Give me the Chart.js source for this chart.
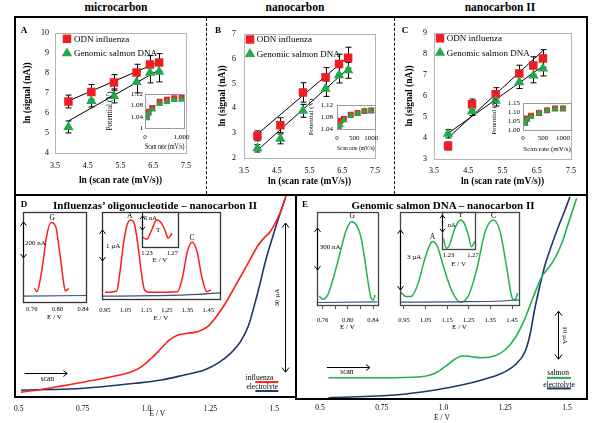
<!DOCTYPE html>
<html>
<head>
<meta charset="utf-8">
<script src="https://cdn.jsdelivr.net/npm/chart.js@4.4.0/dist/chart.umd.min.js"></script>
<style>
body { margin: 0; background: #fff; }
#fig { position: relative; width: 600px; height: 423px; overflow: hidden; font-family: "Liberation Serif", serif; background: #fff; }
#fig canvas { position: absolute; }
.t { position: absolute; transform: translate(-50%, -50%); white-space: nowrap; line-height: 1; color: #000; z-index: 3; }
.b { font-weight: bold; }
.ln { position: absolute; background: #000; z-index: 2; }
.dash { position: absolute; border-left: 1px dashed #000; width: 0; z-index: 2; }
</style>
</head>
<body>
<div id="fig">
  <div class="ln" style="left:14px;top:16px;width:574px;height:2px"></div>
  <div class="ln" style="left:14px;top:16px;width:2px;height:382px"></div>
  <div class="ln" style="left:14px;top:194px;width:574px;height:2px"></div>
  <div class="ln" style="left:586px;top:16px;width:2px;height:384px"></div>
  <div class="ln" style="left:295px;top:194px;width:2px;height:206px"></div>
  <div class="ln" style="left:14px;top:396px;width:283px;height:2px"></div>
  <div class="ln" style="left:295px;top:398px;width:293px;height:2px"></div>
  <div class="dash" style="left:206px;top:18px;height:176px"></div>
  <div class="dash" style="left:394px;top:18px;height:176px"></div>

  <div class="t b" style="left:116px;top:8px;font-size:11.5px">microcarbon</div>
  <div class="t b" style="left:295px;top:8px;font-size:11.5px">nanocarbon</div>
  <div class="t b" style="left:500px;top:8px;font-size:11.5px">nanocarbon II</div>
  <div class="t b" style="left:24px;top:30px;font-size:9px">A</div>
  <div class="t b" style="left:218px;top:30px;font-size:9px">B</div>
  <div class="t b" style="left:405px;top:30px;font-size:9px">C</div>
  <div class="t b" style="left:24px;top:204px;font-size:9px">D</div>
  <div class="t b" style="left:155px;top:205px;font-size:11px">Influenzas’ oligonucleotide – nanocarbon II</div>
  <div class="t b" style="left:305px;top:204px;font-size:9px">E</div>
  <div class="t b" style="left:443px;top:205px;font-size:11px">Genomic salmon DNA – nanocarbon II</div>
</div>
<script>
// ---- top row: ln(signal) vs ln(scan rate) ----
const lnRate = [3.91, 4.61, 5.30, 5.99, 6.40, 6.68];
const lnTicks = [3.5, 4.5, 5.5, 6.5, 7.5];

const aYTicks = [4, 5, 6, 7, 8, 9, 10];
const aOdn = [6.57, 7.05, 7.52, 8.02, 8.42, 8.52];
const aOdnErr = [0.32, 0.37, 0.39, 0.41, 0.44, 0.44];
const aSal = [5.3, 6.6, 6.85, 7.55, 8.0, 8.05];
const aSalErr = [0.3, 0.3, 0.35, 0.55, 0.5, 0.5];
const aOdnFit = [6.6, 8.55];
const aSalFit = [5.6, 8.15];

const bYTicks = [2, 3, 4, 5, 6, 7];
const bOdn = [2.89, 3.32, 4.64, 5.25, 5.78, 6.04];
const bOdnErr = [0.2, 0.3, 0.39, 0.39, 0.4, 0.42];
const bSal = [2.39, 2.77, 3.9, 4.79, 5.33, 5.53];
const bSalErr = [0.15, 0.2, 0.26, 0.31, 0.31, 0.32];
const bOdnFit = [2.96, 6.07];
const bSalFit = [2.31, 5.6];

const cYTicks = [3, 4, 5, 6, 7, 8, 9];
const cOdn = [3.62, 5.6, 6.08, 7.06, 7.44, 7.78];
const cOdnErr = [0.19, 0.25, 0.31, 0.4, 0.42, 0.42];
const cSal = [4.2, 5.27, 5.77, 6.65, 6.97, 7.3];
const cSalErr = [0.2, 0.2, 0.25, 0.3, 0.35, 0.35];
const cOdnFit = [4.0, 8.15];
const cSalFit = [4.22, 7.42];

// insets: peak potential vs scan rate
const potRate = [50, 100, 200, 400, 600, 800, 1000];
const aOdnPot = [1.038, 1.058, 1.071, 1.093, 1.100, 1.106, 1.112];
const aSalPot = [1.036, 1.052, 1.066, 1.086, 1.093, 1.100, 1.101];
const bOdnPot = [1.047, 1.068, 1.074, 1.088, 1.094, 1.100, 1.102];
const bSalPot = [1.042, 1.053, 1.070, 1.085, 1.092, 1.100, 1.101];
const cOdnPot = [1.040, 1.065, 1.080, 1.095, 1.110, 1.120, 1.120];
const cSalPot = [1.035, 1.058, 1.075, 1.095, 1.110, 1.118, 1.120];
const aPotTicks = [1, 1.04, 1.08, 1.12];
const bPotTicks = [1.04, 1.08, 1.12];
const cPotTicks = [1.00, 1.05, 1.10, 1.15];
const aRateTicks = [0, 1000];
const bcRateTicks = [0, 500, 1000];

// ---- bottom row: voltammograms (E / V, current) ----
const eTicks = [0.5, 0.75, 1.0, 1.25, 1.5];
const eTickLabels = ['0.5', '0.75', '1.0', '1.25', '1.5'];

// D main, current in µA
const dInfE = [0.509, 0.632, 0.761, 0.864, 0.942, 0.981, 1.019, 1.058, 1.090, 1.123, 1.162, 1.200, 1.239, 1.278, 1.317, 1.342, 1.394, 1.433, 1.459, 1.484, 1.510, 1.530, 1.547];
const dInfI = [0.95, 1.87, 3.08, 4.08, 5.09, 6.10, 7.79, 9.80, 11.47, 12.47, 12.82, 13.14, 14.14, 16.50, 19.52, 21.87, 26.56, 30.24, 31.93, 33.26, 35.61, 37.97, 40.64];
const dEleE = [0.509, 0.697, 0.826, 0.955, 1.058, 1.148, 1.226, 1.278, 1.329, 1.368, 1.400, 1.426, 1.446, 1.465, 1.484, 1.504, 1.523, 1.543];
const dEleI = [1.41, 1.61, 2.07, 2.76, 3.42, 4.43, 5.43, 6.78, 8.79, 11.13, 14.49, 19.18, 23.20, 27.22, 30.58, 33.94, 36.96, 39.98];

// E main, current in µA
const eSalE = [0.534, 0.736, 0.912, 0.966, 1.006, 1.047, 1.080, 1.114, 1.155, 1.209, 1.249, 1.289, 1.330, 1.364, 1.398, 1.424, 1.451, 1.479, 1.499, 1.519, 1.539];
const eSalI = [4.44, 4.44, 4.65, 5.35, 6.73, 8.33, 9.02, 8.81, 8.60, 9.02, 10.21, 12.65, 16.81, 21.31, 25.48, 27.23, 29.31, 32.44, 35.56, 38.69, 41.81];
const eEleE = [0.534, 0.804, 0.966, 1.074, 1.155, 1.236, 1.289, 1.330, 1.350, 1.370, 1.391, 1.411, 1.438, 1.465, 1.492, 1.512];
const eEleI = [0.27, 0.83, 1.88, 2.92, 3.96, 5.35, 7.08, 9.85, 13.33, 18.90, 23.75, 27.92, 32.08, 35.9, 39.38, 42.15];

// D insets (G in nA, A/C in µA, T in nA)
const dgTicks = [0.76, 0.80, 0.84];
const dGE = [0.7645, 0.768, 0.7731, 0.7781, 0.7831, 0.7898, 0.7973, 0.8023, 0.8064, 0.8098, 0.8124, 0.8174];
const dGI = [76, 57, 122, 234, 363, 441, 419, 307, 196, 104, 61, 76];
const dGBaseE = [0.7464, 0.8445];
const dGBaseI = [33, 36];
const acTicks = [0.95, 1.05, 1.15, 1.25, 1.35, 1.45];
const dACE = [0.951, 1.007, 1.023, 1.039, 1.055, 1.075, 1.094, 1.110, 1.126, 1.142, 1.166, 1.301, 1.325, 1.349, 1.372, 1.396, 1.420, 1.444, 1.463];
const dACI = [0.216, 0.258, 0.88, 1.74, 2.34, 2.55, 2.39, 1.74, 0.88, 0.29, 0.216, 0.236, 0.68, 1.53, 1.83, 1.53, 0.68, 0.236, 0.29];
const dACBaseE = [0.936, 1.2, 1.4, 1.507];
const dACBaseI = [0.09, 0.11, 0.15, 0.2];
const tTicks = [1.23, 1.27];
const dTE = [1.2217, 1.2295, 1.2373, 1.2452, 1.253, 1.2592, 1.2633, 1.2695];
const dTI = [3.68, 2.75, 6.07, 9.64, 8.46, 5.46, 3.1, 4.9];

// E insets
const egTicks = [0.76, 0.78, 0.80, 0.82, 0.84];
const egLabels = ['0.76', '', '0.80', '', '0.84'];
const eGE = [0.7545, 0.7604, 0.7679, 0.7753, 0.7827, 0.7901, 0.7975, 0.8059, 0.8138, 0.8207, 0.8271, 0.8321, 0.837, 0.8404, 0.8434];
const eGI = [64, 41, 71, 166, 286, 416, 536, 595, 571, 488, 321, 166, 48, 36, 71];
const eGBaseE = [0.7511, 0.8474];
const eGBaseI = [18, 22];
const eACE = [0.936, 0.959, 0.982, 1.013, 1.043, 1.066, 1.082, 1.105, 1.135, 1.173, 1.211, 1.25, 1.288, 1.326, 1.364, 1.395, 1.426, 1.451, 1.464, 1.476];
const eACI = [0.64, 0.42, 0.42, 1.0, 2.17, 2.92, 3.17, 2.92, 1.84, 0.67, 0.14, 0.5, 1.84, 3.67, 4.25, 3.67, 1.84, 0.34, 0.25, 0.59];
const eACBaseE = [0.932, 1.2, 1.4, 1.482];
const eACBaseI = [0.14, 0.16, 0.2, 0.26];
const eTE = [1.2212, 1.2265, 1.2315, 1.2382, 1.2443, 1.2495, 1.2557, 1.2623, 1.2674, 1.2726];
const eTI = [3.15, 0.2, 1.18, 5.09, 7.56, 8.53, 7.56, 4.12, 0.68, 2.15];

const RED = '#ee1d23', GREEN = '#22a94b', NAVY = '#1d3766', CVRED = '#ff1c1c', CVGREEN = '#1fb24f', BASE = '#3a5280';
const SERIF = '"Liberation Serif", "Times New Roman", serif';

Chart.defaults.font.family = SERIF;
Chart.defaults.color = '#000';
Chart.defaults.animation = false;
Chart.defaults.events = [];
Chart.defaults.plugins.legend.display = false;
Chart.defaults.plugins.tooltip.enabled = false;

function rawOpt(chart, id) {
  const p = chart.config.options.plugins;
  return p && p[id];
}

function drawMark(ctx, style, x, y, color, r) {
  ctx.fillStyle = color;
  ctx.beginPath();
  if (style === 'triangle') {
    ctx.moveTo(x, y - r);
    ctx.lineTo(x + r * 0.866, y + r * 0.5);
    ctx.lineTo(x - r * 0.866, y + r * 0.5);
    ctx.closePath();
  } else {
    const h = r * Math.SQRT1_2;
    ctx.rect(x - h, y - h, 2 * h, 2 * h);
  }
  ctx.fill();
}

// plot-area border / white fill
Chart.register({
  id: 'frame',
  beforeDraw(chart) {
    const o = rawOpt(chart, 'frame');
    if (!o || !o.fill) return;
    const a = chart.chartArea, ctx = chart.ctx;
    ctx.save();
    ctx.fillStyle = o.fill;
    ctx.fillRect(a.left, a.top, a.right - a.left, a.bottom - a.top);
    ctx.restore();
  },
  afterDraw(chart) {
    const o = rawOpt(chart, 'frame');
    if (!o || !o.color) return;
    const a = chart.chartArea, ctx = chart.ctx;
    ctx.save();
    ctx.strokeStyle = o.color;
    ctx.lineWidth = o.width || 1;
    ctx.strokeRect(Math.round(a.left) + 0.5, Math.round(a.top) + 0.5, Math.round(a.right - a.left), Math.round(a.bottom - a.top));
    ctx.restore();
  }
});

// vertical error bars with caps
Chart.register({
  id: 'errorBars',
  beforeDatasetsDraw(chart) {
    const {ctx, scales: {x, y}} = chart;
    ctx.save();
    ctx.strokeStyle = '#000';
    ctx.lineWidth = 1;
    chart.data.datasets.forEach(ds => {
      if (!ds.errorBars) return;
      ds.data.forEach((p, i) => {
        const e = ds.errorBars[i];
        const px = Math.round(x.getPixelForValue(p.x)) + 0.5;
        const t = y.getPixelForValue(p.y + e), b = y.getPixelForValue(p.y - e);
        ctx.beginPath();
        ctx.moveTo(px, t); ctx.lineTo(px, b);
        ctx.moveTo(px - 3, t); ctx.lineTo(px + 3, t);
        ctx.moveTo(px - 3, b); ctx.lineTo(px + 3, b);
        ctx.stroke();
      });
    });
    ctx.restore();
  }
});

// legend inside the plot area
Chart.register({
  id: 'key',
  afterDatasetsDraw(chart) {
    const o = rawOpt(chart, 'key');
    if (!o) return;
    const {ctx, chartArea: a} = chart;
    let row = 0;
    ctx.save();
    chart.data.datasets.forEach(ds => {
      if (!ds.label) return;
      const cy = a.top + o.dy + row * o.gap;
      drawMark(ctx, ds.pointStyle, a.left + o.dx, cy, ds.pointBackgroundColor, ds.pointRadius);
      ctx.fillStyle = '#000';
      ctx.font = o.size + 'px ' + SERIF;
      ctx.textAlign = 'left';
      ctx.textBaseline = 'middle';
      ctx.fillText(ds.label, a.left + o.tx, cy + 0.5);
      row++;
    });
    ctx.restore();
  }
});

// annotations in data coordinates: labels, scale bars, arrows, key lines
Chart.register({
  id: 'marks',
  afterDraw(chart) {
    const o = rawOpt(chart, 'marks');
    if (!o || !o.items) return;
    const {ctx} = chart, sx = chart.scales.x, sy = chart.scales.y;
    const X = v => sx.getPixelForValue(v), Y = v => sy.getPixelForValue(v);
    ctx.save();
    ctx.lineJoin = 'round';
    for (const m of o.items) {
      const col = m.color || '#000';
      ctx.strokeStyle = col;
      ctx.fillStyle = col;
      ctx.lineWidth = m.w || 1;
      ctx.beginPath();
      if (m.t === 'text') {
        ctx.font = (m.size || 7) + 'px ' + SERIF;
        ctx.textAlign = m.align || 'center';
        ctx.textBaseline = 'middle';
        ctx.save();
        ctx.translate(X(m.x), Y(m.y));
        if (m.rot) ctx.rotate(m.rot * Math.PI / 180);
        ctx.fillText(m.s, 0, 0);
        ctx.restore();
      } else if (m.t === 'vbar') {
        const px = Math.round(X(m.x)) + 0.5, lo = Y(m.y1), hi = Y(m.y2), h = m.h || 3;
        ctx.moveTo(px, lo); ctx.lineTo(px, hi);
        ctx.moveTo(px - h, hi + h * 1.3); ctx.lineTo(px, hi); ctx.lineTo(px + h, hi + h * 1.3);
        ctx.moveTo(px - h, lo - h * 1.3); ctx.lineTo(px, lo); ctx.lineTo(px + h, lo - h * 1.3);
        ctx.stroke();
      } else if (m.t === 'harrow') {
        const a = X(m.x1), b = X(m.x2), py = Math.round(Y(m.y)) + 0.5, h = m.h || 3;
        ctx.moveTo(a, py); ctx.lineTo(b, py);
        ctx.moveTo(b - h * 1.3, py - h); ctx.lineTo(b, py); ctx.lineTo(b - h * 1.3, py + h);
        ctx.stroke();
      } else if (m.t === 'seg') {
        ctx.moveTo(X(m.x1), Y(m.y)); ctx.lineTo(X(m.x2), Y(m.y));
        ctx.stroke();
      }
    }
    ctx.restore();
  }
});

function axis(min, max, ticks, labels, size, pad, extra) {
  return Object.assign({
    type: 'linear', min, max,
    afterBuildTicks: s => { s.ticks = ticks.map(v => ({ value: v })); },
    ticks: { font: { size }, padding: pad, callback: (v, i) => labels[i], maxRotation: 0, autoSkip: false },
    grid: { display: false, drawTicks: false },
    border: { display: false }
  }, extra || {});
}

function title(text, size, bold, pt, pb) {
  return { display: true, text, font: { size, weight: bold ? 'bold' : 'normal' }, padding: { top: pt, bottom: pb } };
}

// box = plot area on the page [x1, y1, x2, y2]; m = room around it [left, top, right, bottom]
function mount(box, m, config) {
  const c = document.createElement('canvas');
  const w = box[2] - box[0] + m[0] + m[2], h = box[3] - box[1] + m[1] + m[3];
  c.width = w; c.height = h;
  c.style.left = (box[0] - m[0]) + 'px';
  c.style.top = (box[1] - m[1]) + 'px';
  c.style.width = w + 'px';
  c.style.height = h + 'px';
  document.getElementById('fig').appendChild(c);
  const o = config.options;
  o.responsive = false;
  o.maintainAspectRatio = false;
  const xs = o.scales.x, ys = o.scales.y;
  o.layout = { autoPadding: false, padding: { left: ys.display === false ? m[0] : 0, top: m[1], right: m[2], bottom: xs.display === false ? m[3] : 0 } };
  if (xs.display !== false) xs.afterFit = s => { s.height = m[3]; };
  if (ys.display !== false) ys.afterFit = s => { s.width = m[0]; };
  return new Chart(c, config);
}

function pts(xs, ys) { return xs.map((x, i) => ({ x, y: ys[i] })); }

function curve(xs, ys, color, w) {
  return { data: pts(xs, ys), showLine: true, pointRadius: 0, borderColor: color, borderWidth: w, cubicInterpolationMode: 'monotone', fill: false };
}

// triangles sit on top of the squares
function marker(label, xs, ys, style, color, r, err) {
  return { label, data: pts(xs, ys), pointStyle: style, pointRadius: r, pointBackgroundColor: color, pointBorderColor: color, pointBorderWidth: 0, errorBars: err, order: style === 'triangle' ? 1 : 2 };
}

function fitLine(ends) {
  return { data: [{ x: lnRate[0], y: ends[0] }, { x: lnRate[lnRate.length - 1], y: ends[1] }], showLine: true, pointRadius: 0, borderColor: '#000', borderWidth: 1, order: 3 };
}

function topMain(box, m, yTicks, odn, odnErr, sal, salErr, odnFit, salFit, f) {
  mount(box, m, {
    type: 'scatter',
    data: { datasets: [
      marker('ODN influenza', lnRate, odn, 'rect', RED, 6, odnErr),
      marker('Genomic salmon DNA', lnRate, sal, 'triangle', GREEN, 6, salErr),
      fitLine(odnFit),
      fitLine(salFit)
    ] },
    options: {
      scales: {
        x: axis(3.5, 7.5, lnTicks, lnTicks.map(v => v.toFixed(1)), 8, f.xpad, { title: title('ln (scan rate (mV/s))', 9.5, true, 0, 3) }),
        y: axis(yTicks[0], yTicks[yTicks.length - 1], yTicks, yTicks.map(String), 8, f.ypad, { title: title('ln (signal (nA))', 9.5, true, 2, 0) })
      },
      plugins: { frame: { color: '#b4b4b4', width: 1 }, key: { dx: f.kx, dy: f.ky, gap: 14.5, tx: f.tx, size: 9 } }
    }
  });
}

function topInset(box, m, rateMax, rateTicks, rateLabels, potTicks, potLabels, odnPot, salPot, f) {
  mount(box, m, {
    type: 'scatter',
    data: { datasets: [
      marker('', potRate, odnPot, 'rect', RED, 4.2),
      marker('', potRate, salPot, 'triangle', GREEN, 4.2)
    ] },
    options: {
      scales: {
        x: axis(0, rateMax, rateTicks, rateLabels, 7, f.xpad, { title: title('Scan rate (mV/s)', f.ts, false, 0, 0) }),
        y: axis(potTicks[0], potTicks[potTicks.length - 1], potTicks, potLabels, 7, f.ypad, { title: title('Potential (V)', f.ts, false, 0, 0) })
      },
      plugins: { frame: { color: '#9a9a9a', width: 1, fill: '#fff' } }
    }
  });
}

function cvMain(box, m, xmin, xmax, ymax, series, items, pad) {
  mount(box, m, {
    type: 'scatter',
    data: { datasets: series },
    options: {
      scales: {
        x: axis(xmin, xmax, eTicks, eTickLabels, 7.5, pad, { title: title('E / V', 7.5, false, 0, 0) }),
        y: { type: 'linear', min: 0, max: ymax, display: false }
      },
      plugins: { marks: { items } }
    }
  });
}

function cvInset(box, m, xmin, xmax, ticks, labels, ymax, series, items, f) {
  const x = axis(xmin, xmax, ticks, labels, 6.5, f.pad, { title: title('E / V', 7, false, 0, 0) });
  if (f.tick) x.grid = { display: true, drawOnChartArea: false, drawTicks: true, tickLength: f.tick, color: '#555' };
  mount(box, m, {
    type: 'scatter',
    data: { datasets: series },
    options: {
      scales: { x, y: { type: 'linear', min: 0, max: ymax, display: false } },
      plugins: { frame: { color: f.frame, width: 1.3, fill: '#fff' }, marks: { items } }
    }
  });
}

// ---- A, B, C ----
topMain([55, 30, 189, 153], [35, 8, 10, 36], aYTicks, aOdn, aOdnErr, aSal, aSalErr, aOdnFit, aSalFit,
  { xpad: 8, ypad: 6, kx: 12, ky: 6, tx: 19 });
topMain([244, 29, 378, 158], [29, 8, 10, 32], bYTicks, bOdn, bOdnErr, bSal, bSalErr, bOdnFit, bSalFit,
  { xpad: 8, ypad: 8, kx: 6, ky: 5.7, tx: 12.7 });
topMain([434, 29, 573, 159], [32, 8, 10, 31], cYTicks, cOdn, cOdnErr, cSal, cSalErr, cOdnFit, cSalFit,
  { xpad: 7, ypad: 7, kx: 6, ky: 5.5, tx: 12.7 });

topInset([145, 92, 187, 128], [39, 4, 8, 24], 1080, aRateTicks, ['0', '1,000'], aPotTicks, ['1', '1.04', '1.08', '1.12'], aOdnPot, aSalPot,
  { xpad: 5, ypad: 2, ts: 7.5 });
topInset([337, 101, 376, 129], [30, 4, 8, 23], 1100, bcRateTicks, ['0', '500', '1000'], bPotTicks, ['1.04', '1.08', '1.12'], bOdnPot, bSalPot,
  { xpad: 5, ypad: 4, ts: 7 });
topInset([523, 100, 571, 130], [33, 4, 8, 23], 1200, bcRateTicks, ['0', '500', '1000'], cPotTicks, cPotTicks.map(v => v.toFixed(2)), cOdnPot, cSalPot,
  { xpad: 4, ypad: 3, ts: 7 });

// ---- D ----
cvMain([16, 195, 296, 397], [10, 0, 6, 22], 0.5, 1.585, 40.64, [
  curve(dInfE, dInfI, CVRED, 1.6),
  curve(dEleE, dEleI, NAVY, 1.6)
], [
  { t: 'harrow', x1: 0.523, x2: 0.690, y: 4.83, h: 3 },
  { t: 'text', x: 0.612, y: 3.6, s: 'scan', size: 7.5 },
  { t: 'vbar', x: 1.543, y1: 5, y2: 35, h: 3.5 },
  { t: 'text', x: 1.512, y: 20, s: '30 µA', size: 7, rot: -90 },
  { t: 'text', x: 1.442, y: 3.8, s: 'influenza', size: 7.5 },
  { t: 'seg', x1: 1.426, x2: 1.516, y: 3.0, color: CVRED, w: 2 },
  { t: 'text', x: 1.453, y: 2.0, s: 'electrolyte', size: 7.5 },
  { t: 'seg', x1: 1.426, x2: 1.516, y: 1.2, color: NAVY, w: 2 }
], 8);

cvInset([23, 212, 88, 302], [8, 2, 4, 19], 0.7464, 0.8445, dgTicks, ['0.76', '0.80', '0.84'], 500, [
  curve(dGBaseE, dGBaseI, BASE, 1.2),
  curve(dGE, dGI, CVRED, 1.5)
], [
  { t: 'vbar', x: 0.7464, y1: 245, y2: 445, h: 3 },
  { t: 'text', x: 0.7494, y: 328, s: '200 nA', size: 7, align: 'left' },
  { t: 'text', x: 0.792, y: 464, s: 'G', size: 7.5 }
], { pad: 3, frame: '#333' });

cvInset([100, 212, 220, 299], [8, 2, 6, 23], 0.9357, 1.507, acTicks, acTicks.map(v => v.toFixed(2)), 2.81, [
  curve(dACBaseE, dACBaseI, BASE, 1.2),
  curve(dACE, dACI, CVRED, 1.5)
], [
  { t: 'vbar', x: 0.9357, y1: 1.23, y2: 2.23, h: 3 },
  { t: 'text', x: 0.9548, y: 1.71, s: '1 µA', size: 7, align: 'left' },
  { t: 'text', x: 1.07, y: 2.68, s: 'A', size: 7.5 },
  { t: 'text', x: 1.372, y: 1.98, s: 'C', size: 7.5 }
], { pad: 7, frame: '#333' });

cvInset([142, 212, 178, 247], [8, 2, 4, 17], 1.222, 1.279, tTicks, ['1.23', '1.27'], 12.5, [
  curve(dTE, dTI, CVRED, 1.5)
], [
  { t: 'vbar', x: 1.222, y1: 6.07, y2: 11.07, h: 2.5 },
  { t: 'text', x: 1.2253, y: 10.4, s: '5 nA', size: 6.5, align: 'left' },
  { t: 'text', x: 1.2477, y: 6.07, s: 'T', size: 7 }
], { pad: 2, frame: '#333' });

// ---- E ----
cvMain([297, 196, 587, 399], [10, 0, 8, 24], 0.4069, 1.581, 42.29, [
  curve(eSalE, eSalI, CVGREEN, 1.6),
  curve(eEleE, eEleI, NAVY, 1.6)
], [
  { t: 'harrow', x1: 0.528, x2: 0.702, y: 6.67, h: 3 },
  { t: 'text', x: 0.609, y: 5.6, s: 'scan', size: 7.5 },
  { t: 'vbar', x: 1.464, y1: 8.3, y2: 18.3, h: 3.5 },
  { t: 'text', x: 1.490, y: 13.3, s: '10 µA', size: 7, rot: 90 },
  { t: 'text', x: 1.464, y: 5.4, s: 'salmon', size: 7.5 },
  { t: 'seg', x1: 1.419, x2: 1.516, y: 4.4, color: CVGREEN, w: 2 },
  { t: 'text', x: 1.468, y: 2.9, s: 'electrolyte', size: 7.5 },
  { t: 'seg', x1: 1.419, x2: 1.516, y: 2.2, color: NAVY, w: 2 }
], 5);

cvInset([317, 212, 382, 305], [8, 2, 4, 26], 0.7511, 0.8474, egTicks, egLabels, 664, [
  curve(eGBaseE, eGBaseI, BASE, 1.2),
  curve(eGE, eGI, CVGREEN, 1.5)
], [
  { t: 'vbar', x: 0.7511, y1: 250, y2: 550, h: 3 },
  { t: 'text', x: 0.7556, y: 416, s: '300 nA', size: 7, align: 'left' },
  { t: 'text', x: 0.807, y: 632, s: 'G', size: 7.5 }
], { pad: 7, tick: 4, frame: '#444' });

cvInset([399, 212, 519, 305], [8, 2, 6, 26], 0.932, 1.482, acTicks, acTicks.map(v => v.toFixed(2)), 4.65, [
  curve(eACBaseE, eACBaseI, BASE, 1.2),
  curve(eACE, eACI, CVGREEN, 1.5)
], [
  { t: 'vbar', x: 0.932, y1: 0.75, y2: 3.75, h: 3 },
  { t: 'text', x: 0.964, y: 2.37, s: '3 µA', size: 7, align: 'left' },
  { t: 'text', x: 1.082, y: 3.42, s: 'A', size: 7.5 },
  { t: 'text', x: 1.364, y: 4.47, s: 'C', size: 7.5 }
], { pad: 7, tick: 4, frame: '#444' });

cvInset([442, 212, 477, 249], [8, 2, 4, 19], 1.2192, 1.2738, tTicks, ['1.23', '1.27'], 10.9, [
  curve(eTE, eTI, CVGREEN, 1.5)
], [
  { t: 'vbar', x: 1.2192, y1: 5, y2: 10, h: 2.5 },
  { t: 'text', x: 1.2285, y: 6.85, s: 'nA', size: 6.5, align: 'left' },
  { t: 'text', x: 1.2495, y: 10.1, s: 'T', size: 7 }
], { pad: 2, frame: '#444' });
</script>
